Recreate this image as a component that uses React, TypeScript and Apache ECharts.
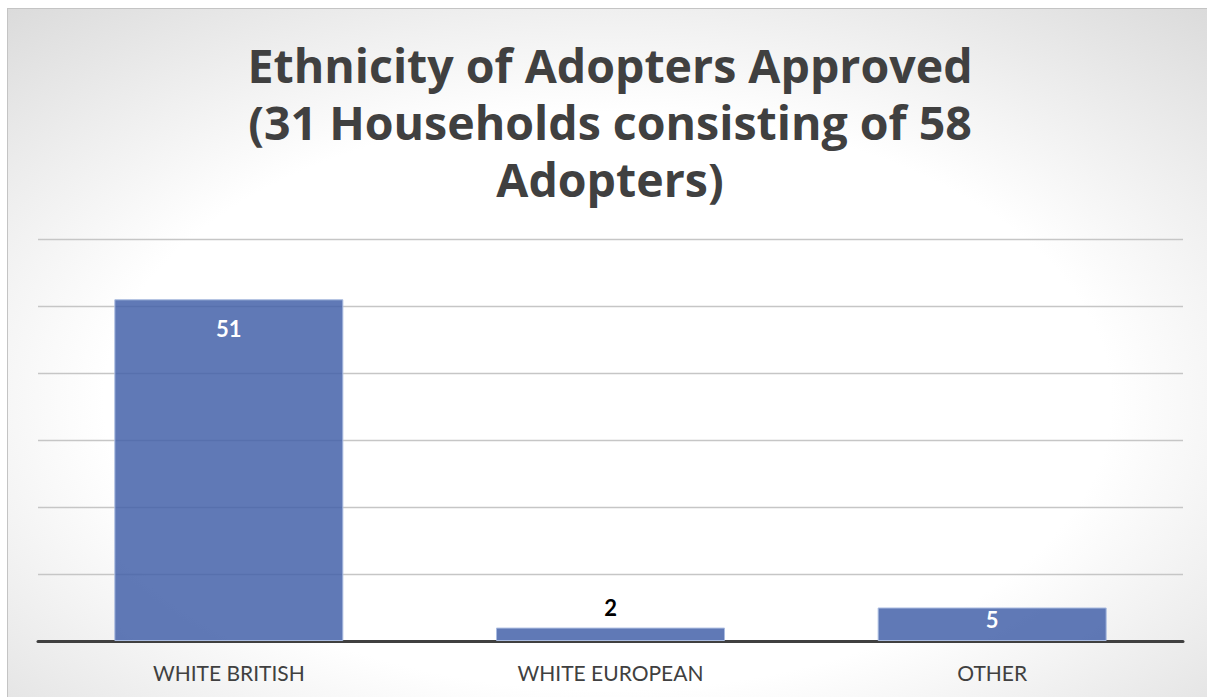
import React, { useEffect, useRef } from "react";
import * as echarts from "echarts";

const titleLines = ["Ethnicity of Adopters Approved", "(31 Households consisting of 58", "Adopters)"];
const categories = ["WHITE BRITISH", "WHITE EUROPEAN", "OTHER"];
const values = [51, 2, 5];
const yMin = 0;
const yMax = 60;
const yInterval = 10;

export default function App() {
  const ref = useRef<HTMLDivElement>(null);
  useEffect(() => {
    document.body.style.margin = "0";
    document.body.style.overflow = "hidden";
    if (!ref.current) return;
    const chart = echarts.init(ref.current, undefined, { renderer: "svg" });
    const labelStyles = [
      { show: true, position: "insideTop", distance: 18, color: "#ffffff" },
      { show: true, position: "top", distance: 9, color: "#000000" },
      { show: true, position: "insideTop", distance: 1, color: "#ffffff" },
    ];
    chart.setOption({
      animation: false,
      backgroundColor: {
        type: "radial",
        x: 0.5,
        y: 0.57,
        r: 1.0,
        colorStops: [
          { offset: 0, color: "#ffffff" },
          { offset: 0.42, color: "#ffffff" },
          { offset: 0.87, color: "#cfcfcf" },
          { offset: 1, color: "#c9c9c9" },
        ],
      },
      title: {
        text: titleLines.join("\n"),
        left: 597,
        top: 22,
        textAlign: "center",
        textStyle: {
          fontFamily: "Open Sans",
          fontWeight: "bold",
          fontSize: 46.5,
          lineHeight: 57,
          color: "#404040",
        },
      },
      grid: { left: 30, right: 24, top: 230, bottom: 56 },
      xAxis: {
        type: "category",
        data: categories,
        axisLine: { show: true, lineStyle: { color: "#404040", width: 3 } },
        axisTick: { show: false },
        axisLabel: {
          fontFamily: "Lato",
          fontSize: 21,
          color: "#404040",
          margin: 21,
        },
      },
      yAxis: {
        type: "value",
        min: yMin,
        max: yMax,
        interval: yInterval,
        axisLabel: { show: false },
        axisLine: { show: false },
        axisTick: { show: false },
        splitLine: { lineStyle: { color: "#c6c6c6", width: 1.3 } },
      },
      series: [
        {
          type: "bar",
          barWidth: "60%",
          data: values.map((v, i) => ({
            value: v,
            label: { ...labelStyles[i] },
          })),
          itemStyle: {
            color: "rgba(66,95,168,0.84)",
            borderColor: "#a9bbe0",
            borderWidth: 1,
          },
          label: {
            fontFamily: "Lato",
            fontWeight: "bold",
            fontSize: 22,
          },
        },
      ],
    });
    return () => chart.dispose();
  }, []);
  return (
    <div
      ref={ref}
      style={{
        position: "absolute",
        left: 7,
        top: 8,
        width: 1200,
        height: 689,
        borderTop: "1px solid #c4c4c4",
        borderLeft: "1px solid #c4c4c4",
        boxSizing: "border-box",
      }}
    />
  );
}
